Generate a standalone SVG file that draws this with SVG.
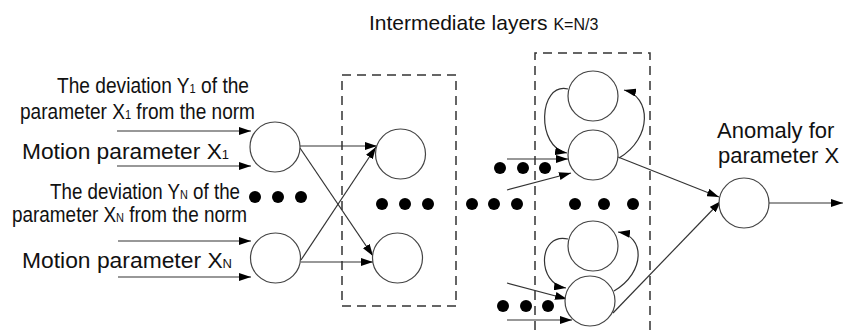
<svg xmlns="http://www.w3.org/2000/svg" width="845" height="335" viewBox="0 0 845 335">
  <style>
    .lbl { font-family: "Liberation Sans", Arial, sans-serif; fill: #111; }
    .node { fill: #fff; stroke: #444; stroke-width: 1.2; }
    .edge { fill: none; stroke: #333; stroke-width: 1.2; }
    .layer { fill: none; stroke: #333; stroke-width: 1.5; stroke-dasharray: 9 6; }
    .dot { fill: #000; }
    .sub { font-size: 12.5px; }
  </style>
  <defs>
    <marker id="arrow" viewBox="0 0 12 8" refX="12" refY="4" markerWidth="12" markerHeight="8" markerUnits="userSpaceOnUse" orient="auto">
      <path d="M0,0 L12,4 L0,8 z" fill="#000"/>
    </marker>
  </defs>

  <rect width="845" height="335" fill="#fff"/>

  <!-- layer frames -->
  <g id="layer-frames">
    <rect class="layer" x="342" y="75" width="114" height="231"/>
    <path class="layer" d="M535,345 V53 H650 V345"/>
  </g>

  <!-- labels -->
  <g id="labels">
    <text class="lbl" x="369" y="30" font-size="21">Intermediate layers <tspan font-size="16">K=N/3</tspan></text>
    <text class="lbl" font-size="21.5">
      <tspan x="57" y="93" textLength="192" lengthAdjust="spacingAndGlyphs">The deviation Y<tspan class="sub">1</tspan> of the</tspan>
      <tspan x="20" y="119" textLength="235" lengthAdjust="spacingAndGlyphs">parameter X<tspan class="sub">1</tspan> from the norm</tspan>
    </text>
    <text class="lbl" x="22" y="159" font-size="22" textLength="207" lengthAdjust="spacingAndGlyphs">Motion parameter X<tspan class="sub">1</tspan></text>
    <text class="lbl" font-size="21.5">
      <tspan x="50" y="199" textLength="190" lengthAdjust="spacingAndGlyphs">The deviation Y<tspan class="sub">N</tspan> of the</tspan>
      <tspan x="12" y="222" textLength="235" lengthAdjust="spacingAndGlyphs">parameter X<tspan class="sub">N</tspan> from the norm</tspan>
    </text>
    <text class="lbl" x="22" y="268" font-size="22" textLength="210" lengthAdjust="spacingAndGlyphs">Motion parameter X<tspan class="sub">N</tspan></text>
    <text class="lbl" font-size="22">
      <tspan x="717" y="138">Anomaly for</tspan>
      <tspan x="718" y="163">parameter X</tspan>
    </text>
  </g>

  <!-- ellipsis dots -->
  <g id="ellipses">
    <circle class="dot" cx="255" cy="197" r="6"/>
    <circle class="dot" cx="278" cy="197" r="6"/>
    <circle class="dot" cx="301" cy="197" r="6"/>
    <circle class="dot" cx="382" cy="204" r="6"/>
    <circle class="dot" cx="405" cy="204" r="6"/>
    <circle class="dot" cx="428" cy="204" r="6"/>
    <circle class="dot" cx="472" cy="204" r="6"/>
    <circle class="dot" cx="494" cy="204" r="6"/>
    <circle class="dot" cx="517" cy="204" r="6"/>
    <circle class="dot" cx="575" cy="204" r="6"/>
    <circle class="dot" cx="604" cy="204" r="6"/>
    <circle class="dot" cx="633" cy="204" r="6"/>
    <circle class="dot" cx="500" cy="168" r="6"/>
    <circle class="dot" cx="523" cy="168" r="6"/>
    <circle class="dot" cx="545" cy="168" r="6"/>
    <circle class="dot" cx="503" cy="306" r="6"/>
    <circle class="dot" cx="526" cy="306" r="6"/>
    <circle class="dot" cx="548" cy="306" r="6"/>
  </g>

  <!-- connectors -->
  <g id="connectors">
    <line class="edge" x1="117" y1="131" x2="251" y2="131" marker-end="url(#arrow)"/>
    <line class="edge" x1="117" y1="166" x2="251" y2="166" marker-end="url(#arrow)"/>
    <line class="edge" x1="118" y1="241" x2="251" y2="241" marker-end="url(#arrow)"/>
    <line class="edge" x1="118" y1="277" x2="251" y2="277" marker-end="url(#arrow)"/>

    <line class="edge" x1="300" y1="146" x2="377" y2="146" marker-end="url(#arrow)"/>
    <line class="edge" x1="300" y1="148" x2="373" y2="256" marker-end="url(#arrow)"/>
    <line class="edge" x1="301" y1="262" x2="373" y2="262" marker-end="url(#arrow)"/>
    <line class="edge" x1="301" y1="260" x2="376" y2="147" marker-end="url(#arrow)"/>

    <line class="edge" x1="507" y1="159" x2="568" y2="159" marker-end="url(#arrow)"/>
    <line class="edge" x1="507" y1="190" x2="571" y2="173" marker-end="url(#arrow)"/>
    <path class="edge" d="M568,89 C538,82 536,148 567,153" marker-end="url(#arrow)"/>
    <path class="edge" d="M619,158 C653,138 651,96 624,90" marker-end="url(#arrow)"/>

    <line class="edge" x1="507" y1="283" x2="567" y2="299" marker-end="url(#arrow)"/>
    <line class="edge" x1="507" y1="320" x2="572" y2="320" marker-end="url(#arrow)"/>
    <path class="edge" d="M568,239 C538,232 536,284 566,288" marker-end="url(#arrow)"/>
    <path class="edge" d="M614,291 C646,272 645,236 618,232" marker-end="url(#arrow)"/>

    <line class="edge" x1="618" y1="157" x2="719" y2="197" marker-end="url(#arrow)"/>
    <line class="edge" x1="613" y1="313" x2="721" y2="201" marker-end="url(#arrow)"/>
    <line class="edge" x1="769" y1="203" x2="843" y2="203" marker-end="url(#arrow)"/>
  </g>

  <!-- nodes -->
  <g id="in-1"><circle class="node" cx="275" cy="147" r="25"/></g>
  <g id="in-n"><circle class="node" cx="275.5" cy="258" r="25"/></g>
  <g id="hidden-1"><circle class="node" cx="400.5" cy="154" r="25"/></g>
  <g id="hidden-2"><circle class="node" cx="397.5" cy="258" r="25"/></g>
  <g id="rec-a"><circle class="node" cx="593" cy="96" r="25"/></g>
  <g id="rec-b"><circle class="node" cx="593" cy="155" r="25"/></g>
  <g id="rec-c"><circle class="node" cx="593" cy="246" r="25"/></g>
  <g id="rec-d"><circle class="node" cx="590" cy="301" r="25"/></g>
  <g id="output"><circle class="node" cx="744" cy="203" r="25"/></g>
</svg>
